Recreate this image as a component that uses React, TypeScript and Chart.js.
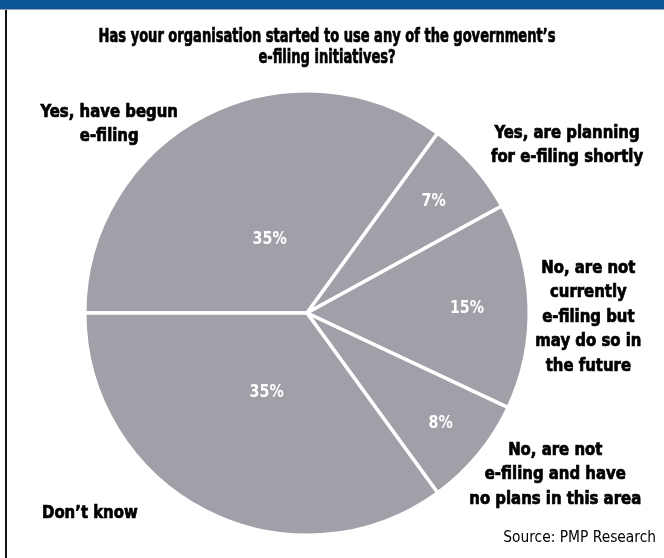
import React, { useEffect, useRef } from "react";
import { Chart, registerables } from "chart.js";

Chart.register(...registerables);

const titleLines = ["Has your organisation started to use any of the government’s", "e-filing initiatives?"];
const categories = [
  "Yes, have begun e-filing",
  "Yes, are planning for e-filing shortly",
  "No, are not currently e-filing but may do so in the future",
  "No, are not e-filing and have no plans in this area",
  "Don’t know",
];
const values = [35, 7, 15, 8, 35];
const labelLines = [
  ["Yes, have begun", "e-filing"],
  ["Yes, are planning", "for e-filing shortly"],
  ["No, are not", "currently", "e-filing but", "may do so in", "the future"],
  ["No, are not", "e-filing and have", "no plans in this area"],
  ["Don’t know"],
];
const sourceText = "Source: PMP Research";

// label placement (relative to pie centre, in units of radius)
const outerLabelPos = [
  [-0.89, -0.905],
  [1.17, -0.81],
  [1.266, -0.203],
  [1.117, 0.617],
  [-0.977, 0.9],
];
const innerLabelRadius = [0.37, 0.76, 0.72, 0.78, 0.4];

const FONT = "'DejaVu Sans Condensed', 'Liberation Sans Narrow', 'Roboto Condensed', sans-serif";

function drawText(ctx: any, text: string, x: number, y: number, sx: number, heavy: boolean) {
  ctx.save();
  ctx.translate(x, y);
  ctx.scale(sx, 1);
  if (heavy) {
    ctx.lineWidth = 0.7;
    ctx.strokeStyle = ctx.fillStyle;
    ctx.strokeText(text, 0, 0);
  }
  ctx.fillText(text, 0, 0);
  ctx.restore();
}

const textPlugin = {
  id: "textPlugin",
  afterDraw(chart: any) {
    const ctx = chart.ctx;
    const meta = chart.getDatasetMeta(0);
    const arc0 = meta.data[0];
    const cx = arc0.x;
    const cy = arc0.y;
    const r = arc0.outerRadius;
    ctx.save();
    // title
    ctx.fillStyle = "#000";
    ctx.textAlign = "center";
    ctx.textBaseline = "middle";
    ctx.font = `bold 20px ${FONT}`;
    titleLines.forEach((t, i) => drawText(ctx, t, 327, 37 + i * 21, 0.725, true));
    // outer labels
    ctx.font = `bold 18px ${FONT}`;
    labelLines.forEach((lines, i) => {
      const x = cx + outerLabelPos[i][0] * r;
      const y = cy + outerLabelPos[i][1] * r;
      lines.forEach((l, j) => drawText(ctx, l, x, y + j * 24.5, 0.92, true));
    });
    // inner labels
    ctx.fillStyle = "#ffffff";
    ctx.font = `bold 18px ${FONT}`;
    meta.data.forEach((arc: any, i: number) => {
      const mid = (arc.startAngle + arc.endAngle) / 2;
      const rr = innerLabelRadius[i] * r;
      drawText(ctx, values[i] + "%", cx + Math.cos(mid) * rr, cy + Math.sin(mid) * rr, 0.88, false);
    });
    // source
    ctx.fillStyle = "#000";
    ctx.textAlign = "right";
    ctx.font = `16px ${FONT}`;
    drawText(ctx, sourceText, 656, 538, 0.96, false);
    ctx.restore();
  },
};

export default function App() {
  const ref = useRef<HTMLCanvasElement>(null);
  useEffect(() => {
    if (!ref.current) return;
    const chart = new Chart(ref.current, {
      type: "pie",
      data: {
        labels: categories,
        datasets: [
          {
            data: values,
            backgroundColor: "#a39fa8",
            borderColor: "#ffffff",
            borderWidth: 3.5,
          },
        ],
      },
      options: {
        animation: false,
        responsive: false,
        rotation: -90,
        layout: { padding: { left: 83, right: 133, top: 89, bottom: 21 } },
        plugins: {
          legend: { display: false },
          tooltip: { enabled: false },
          title: { display: false },
        },
      },
      plugins: [textPlugin],
    });
    return () => chart.destroy();
  }, []);
  return (
    <div style={{ position: "fixed", left: 0, top: 0, width: 664, height: 558, background: "#fff", overflow: "hidden" }}>
      <div style={{ position: "absolute", left: 0, top: 0, width: 664, height: 9, background: "#0b5599", borderBottom: "1px solid #9aa3ad" }} />
      <div style={{ position: "absolute", left: 5, top: 10, width: 2, height: 548, background: "#111" }} />
      <canvas ref={ref} width={664} height={558} style={{ position: "absolute", left: 0, top: 0 }} />
    </div>
  );
}
